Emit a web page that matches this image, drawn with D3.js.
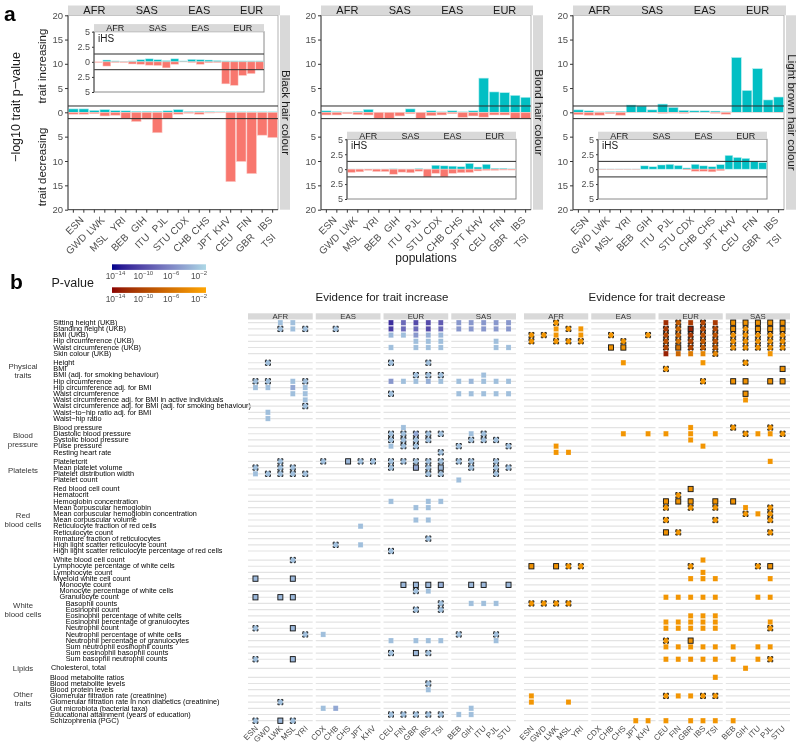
<!DOCTYPE html>
<html><head><meta charset="utf-8">
<script src="https://cdn.jsdelivr.net/npm/d3@7"></script>
<style>body{margin:0;background:#fff} svg{font-family:"Liberation Sans",Arial,Helvetica,sans-serif} .gs{opacity:0.995}</style>
</head><body><svg id="c" width="800" height="748"></svg>
<script>
// ================= DATA =================
// Panel a
const popsA = ["ESN","GWD","LWK","MSL","YRI","BEB","GIH","ITU","PJL","STU","CDX","CHB","CHS","JPT","KHV","CEU","FIN","GBR","IBS","TSI"];
const superA = ["AFR","SAS","EAS","EUR"];
const hairTraits = ["Black hair colour","Blond hair colour","Light brown hair colour"];
const mainTicksUp = [0,5,10,15,20];
const mainTicksDown = [5,10,15,20];
const ihsTicks = [-5,-2.5,0,2.5,5];
const threshold = 1.3;
// -log10 p, trait increasing / decreasing (main), and iHS inset
const blackInc = [0.7,0.7,0.4,0.55,0.35, 0.3,0.2,0.2,0.2,0.3, 0.55,0.15,0.2,0.15,0.1, 0.1,0.1,0.1,0.1,0.1];
const blackDec = [0.4,0.4,0.3,0.75,0.6, 1.25,1.9,1.4,4.2,1.3, 0.4,0.2,0.4,0.15,0.1, 14.25,10.1,12.6,4.7,5.2];
const blackIhsInc = [0,0.3,0.15,0.05,0.15, 0.35,0.5,0.35,0.2,0.5, 0.15,0.4,0.35,0.3,0.2, 0.15,0.15,0.15,0.15,0.15];
const blackIhsDec = [0.1,0.7,0.1,0.1,0.35, 0.4,0.55,0.6,1.0,0.4, 0.02,0.1,0.4,0.15,0.1, 3.65,3.9,2.25,1.95,1.25];
const blondInc = [0.3,0.15,0.05,0.2,0.6, 0.02,0.02,0.02,0.7,0.02, 0.3,0.1,0.3,0.1,0.3, 7.05,4.2,4.05,3.5,3.1];
const blondDec = [0.55,0.55,0.3,0.5,0.55, 1.25,1.25,0.75,0.3,1.3, 0.7,0.55,0.3,1.05,0.75, 1.0,0.55,0.55,1.25,1.25];
const blondIhsInc = [0.02,0.02,0.02,0.02,0.02, 0.05,0.02,0.02,0.1,0.02, 0.65,0.55,0.5,0.4,0.95, 0.35,0.8,0.15,0.15,0.05];
const blondIhsDec = [0.55,0.45,0.2,0.4,0.4, 0.85,0.5,0.6,0.35,1.3, 0.7,1.3,0.7,0.6,0.55, 0.3,0.2,0.2,0.15,0.15];
const brownInc = [0.5,0.3,0.1,0.15,0.2, 1.5,1.3,0.5,1.7,1.0, 0.4,0.3,0.3,0.25,0.1, 11.3,4.5,9.0,2.55,3.15];
const brownDec = [0.5,0.6,0.6,0.3,0.6, 0.05,0.02,0.05,0.2,0.15, 0.2,0.02,0.02,0.2,0.4, 0.02,0.02,0.02,0.02,0.05];
const brownIhsInc = [0.03,0.03,0.03,0.03,0.03, 0.55,0.4,0.7,0.8,0.6, 0.2,0.8,0.55,0.4,0.75, 2.3,1.95,1.8,1.3,1.1];
const brownIhsDec = [0.05,0.05,0.05,0.05,0.05, 0,0,0,0,0, 0.1,0.35,0.35,0.45,0.25, 0,0,0,0,0];

// Panel b
const popsB = ["ESN","GWD","LWK","MSL","YRI","CDX","CHB","CHS","JPT","KHV","CEU","FIN","GBR","IBS","TSI","BEB","GIH","ITU","PJL","STU"];
const superB = ["AFR","EAS","EUR","SAS"];
const directions = ["Evidence for trait increase","Evidence for trait decrease"];
const legendTicks = [-14,-10,-6,-2];
const traits = [
"Sitting height (UKB)","Standing height (UKB)","BMI (UKB)","Hip circumference (UKB)","Waist circumference (UKB)","Skin colour (UKB)",
"Height","BMI","BMI (adj. for smoking behaviour)","Hip circumference","Hip circumference adj. for BMI","Waist circumference","Waist circumference adj. for BMI in active individuals","Waist circumference adj. for BMI (adj. for smoking behaviour)","Waist\u2212to\u2212hip ratio adj. for BMI","Waist\u2212hip ratio",
"Blood pressure","Diastolic blood pressure","Systolic blood pressure","Pulse pressure","Resting heart rate",
"Plateletcrit","Mean platelet volume","Platelet distribution width","Platelet count",
"Red blood cell count","Hematocrit","Hemoglobin concentration","Mean corpuscular hemoglobin","Mean corpuscular hemoglobin concentration","Mean corpuscular volume","Reticulocyte fraction of red cells","Reticulocyte count","Immature fraction of reticulocytes","High light scatter reticulocyte count","High light scatter reticulocyte percentage of red cells",
"White blood cell count","Lymphocyte percentage of white cells","Lymphocyte count","Myeloid white cell count","Monocyte count","Monocyte percentage of white cells","Granulocyte count","Basophil counts","Eosinophil count","Eosinophil percentage of white cells","Eosinophil percentage of granulocytes","Neutrophil count","Neutrophil percentage of white cells","Neutrophil percentage of granulocytes","Sum neutrophil eosinophil counts","Sum eosinophil basophil counts","Sum basophil neutrophil counts",
"Cholesterol, total",
"Blood metabolite ratios","Blood metabolite levels","Blood protein levels","Glomerular filtration rate (creatinine)","Glomerular filtration rate in non diabetics (creatinine)","Gut microbiota (bacterial taxa)","Educational attainment (years of education)","Schizophrenia (PGC)"];
const groupSizes = [6,10,5,4,11,17,1,8];
const groupNames = ["","Physical|traits","Blood|pressure","Platelets","Red|blood cells","White|blood cells","Lipids","Other|traits"];
const traitLevel = traits.map((t,i)=> (i>=40&&i<=42)?1:(i>=43&&i<=52)?2:0);
// tiles: [trait index, population, -log10 p, mark (0 plain, 1 solid outline, 2 dashed outline)]
const incTiles = [
[0,"LWK",2.5,0],[0,"MSL",2.5,0],[0,"CEU",12,0],[0,"FIN",8,0],[0,"GBR",10,0],[0,"IBS",10,0],[0,"TSI",9,0],[0,"BEB",5,0],[0,"GIH",5,0],[0,"ITU",5,0],[0,"PJL",5,0],[0,"STU",5,0],
[1,"LWK",2.5,2],[1,"MSL",2.5,0],[1,"YRI",2.5,2],[1,"CHB",2.5,2],[1,"CEU",11,0],[1,"FIN",8,0],[1,"GBR",8,0],[1,"IBS",10,0],[1,"TSI",8,0],[1,"BEB",5,0],[1,"GIH",5,0],[1,"ITU",5,0],[1,"PJL",5,0],[1,"STU",5,0],
[2,"CEU",3,0],[2,"FIN",2.5,0],[2,"GBR",5,0],[2,"IBS",3.5,0],[2,"TSI",3,0],
[3,"GBR",2.5,0],[3,"IBS",2.5,0],[3,"TSI",2.5,0],[3,"PJL",2.5,0],
[4,"CEU",2.5,0],[4,"GBR",2.5,0],[4,"IBS",2.5,0],[4,"TSI",2.5,0],[4,"PJL",2.5,0],[4,"STU",2.5,0],
[6,"GWD",2.5,2],[6,"CEU",2.5,2],[6,"IBS",2.5,2],
[8,"GBR",2.5,2],[8,"IBS",2.5,2],[8,"TSI",2.5,2],[8,"ITU",2.5,0],
[9,"ESN",2.5,2],[9,"GWD",2.5,2],[9,"MSL",2.5,0],[9,"YRI",2.5,2],[9,"CEU",5,0],[9,"FIN",2.5,0],[9,"GBR",2.5,0],[9,"IBS",3.5,0],[9,"TSI",2.5,0],[9,"BEB",2.5,0],[9,"GIH",3,0],[9,"ITU",2.5,0],[9,"PJL",2.5,0],[9,"STU",2.5,0],
[10,"ESN",2.5,0],[10,"GWD",2.5,0],[10,"MSL",4,0],[10,"YRI",2.5,0],
[11,"MSL",2.5,0],[11,"YRI",2.5,0],[11,"CEU",2.5,2],[11,"BEB",2.5,0],[11,"GIH",2.5,0],[11,"ITU",2.5,0],[11,"PJL",2.5,0],[11,"STU",2.5,0],
[12,"YRI",2.5,0],[13,"YRI",2.5,2],[14,"GWD",2.5,0],[15,"GWD",2.5,0],
[16,"FIN",2.5,0],
[17,"CEU",2.5,2],[17,"FIN",2.5,2],[17,"GBR",4,2],[17,"IBS",2.5,2],[17,"TSI",2.5,2],[17,"GIH",2.5,0],[17,"ITU",2.5,2],
[18,"CEU",2.5,2],[18,"FIN",2.5,2],[18,"GBR",2.5,2],[18,"IBS",2.5,2],[18,"GIH",2.5,2],[18,"ITU",2.5,2],[18,"PJL",2.5,2],
[19,"CEU",2.5,0],[19,"FIN",2.5,2],[19,"GBR",2.5,2],[19,"BEB",2.5,2],[19,"STU",2.5,2],
[20,"TSI",2.5,2],
[21,"LWK",2.5,2],[21,"CDX",2.5,2],[21,"CHS",3,1],[21,"JPT",2.5,2],[21,"KHV",2.5,2],[21,"CEU",2.5,2],[21,"FIN",2.5,2],[21,"GBR",2.5,2],[21,"IBS",2.5,2],[21,"TSI",2.5,2],[21,"BEB",2.5,2],[21,"GIH",2.5,2],[21,"PJL",2.5,2],
[22,"ESN",2.5,2],[22,"LWK",2.5,2],[22,"MSL",2.5,2],[22,"CEU",2.5,2],[22,"GBR",4,1],[22,"IBS",2.5,2],[22,"TSI",3,1],[22,"GIH",2.5,2],[22,"PJL",2.5,2],[22,"STU",2.5,2],
[23,"ESN",2.5,0],[23,"GWD",2.5,2],[23,"LWK",2.5,2],[23,"MSL",2.5,2],[23,"YRI",2.5,2],[23,"IBS",2.5,2],[23,"TSI",2.5,2],[23,"PJL",2.5,2],
[24,"BEB",2.5,0],
[27,"CEU",2.5,0],[27,"IBS",2.5,0],[27,"TSI",2.5,0],
[28,"GBR",2.5,0],[28,"IBS",2.5,0],
[30,"GBR",2.5,0],[30,"IBS",2.5,0],
[31,"JPT",2.5,0],[33,"IBS",2.5,2],[34,"CHB",2.5,2],[34,"JPT",2.5,0],[35,"CEU",2.5,2],
[36,"MSL",2.5,2],
[39,"ESN",3,1],[39,"MSL",3,1],
[40,"FIN",3,1],[40,"GBR",3,1],[40,"IBS",3,1],[40,"TSI",3.5,1],[40,"GIH",3,1],[40,"ITU",3,1],[40,"STU",3,1],
[41,"GBR",2.5,2],[41,"IBS",2.5,0],
[42,"ESN",3,1],[42,"LWK",3,1],[42,"MSL",3,1],
[43,"TSI",2.5,2],[43,"GIH",2.5,0],[43,"ITU",2.5,0],[43,"PJL",2.5,0],
[44,"GBR",2.5,2],[44,"TSI",2.5,2],
[47,"ESN",2.5,2],[47,"MSL",3,1],
[48,"YRI",2.5,2],[48,"CDX",2.5,0],[48,"BEB",2.5,2],[48,"PJL",2.5,2],
[49,"CEU",2.5,0],[49,"GBR",2.5,0],[49,"IBS",2.5,0],[49,"TSI",2.5,0],[49,"PJL",2.5,0],
[51,"CEU",2.5,2],[51,"GBR",3,1],[51,"IBS",2.5,2],
[52,"ESN",2.5,2],[52,"MSL",3,1],
[55,"IBS",2.5,2],[56,"IBS",2.5,0],
[58,"LWK",2.5,2],
[59,"CDX",2.5,0],[59,"CHB",4,0],[59,"GIH",2.5,0],
[60,"CEU",2.5,2],[60,"FIN",2.5,2],[60,"GBR",2.5,2],[60,"IBS",2.5,2],[60,"TSI",2.5,2],[60,"BEB",2.5,0],[60,"GIH",2.5,0],
[61,"ESN",2.5,2],[61,"LWK",3,1],[61,"MSL",2.5,2]
];
const decTiles = [
[0,"LWK",2.5,2],[0,"CEU",12,0],[0,"FIN",8,2],[0,"GBR",11,0],[0,"IBS",10,2],[0,"TSI",11,0],[0,"BEB",3,1],[0,"GIH",3,1],[0,"ITU",3,1],[0,"PJL",3,1],[0,"STU",3,1],
[1,"LWK",2.5,0],[1,"MSL",2.5,2],[1,"YRI",2.5,0],[1,"CEU",11,2],[1,"FIN",7,2],[1,"GBR",13,1],[1,"IBS",10,2],[1,"TSI",10,2],[1,"BEB",3,1],[1,"GIH",3,2],[1,"ITU",3,1],[1,"PJL",3,1],[1,"STU",3,1],
[2,"ESN",2.5,2],[2,"GWD",2.5,2],[2,"LWK",2.5,0],[2,"YRI",2.5,0],[2,"CHB",2.5,2],[2,"KHV",2.5,2],[2,"CEU",10,2],[2,"FIN",7,2],[2,"GBR",11,2],[2,"IBS",9,2],[2,"TSI",9,2],[2,"BEB",3,2],[2,"GIH",3,2],[2,"ITU",3,2],[2,"PJL",3,2],[2,"STU",3,2],
[3,"ESN",2.5,2],[3,"LWK",2.5,2],[3,"MSL",2.5,2],[3,"YRI",2.5,2],[3,"CHS",2.5,2],[3,"CEU",9,2],[3,"FIN",6,2],[3,"GBR",10,2],[3,"IBS",8,2],[3,"TSI",9,2],[3,"BEB",3,2],[3,"GIH",3,2],[3,"ITU",3,2],[3,"PJL",3,2],[3,"STU",3,2],
[4,"CHB",3,1],[4,"CHS",3,1],[4,"CEU",10,2],[4,"FIN",6,1],[4,"GBR",10,2],[4,"IBS",8,2],[4,"TSI",8,2],[4,"BEB",3,2],[4,"GIH",3,2],[4,"ITU",3,2],[4,"PJL",3,2],[4,"STU",3,2],
[5,"CEU",13,0],[5,"FIN",7,0],[5,"GBR",5,0],[5,"IBS",4,0],[5,"TSI",4,2],[5,"PJL",2.5,0],
[6,"CHS",2.5,0],[6,"IBS",2.5,0],[6,"GIH",2.5,2],
[7,"CEU",2.5,2],[7,"STU",3,1],
[9,"IBS",2.5,2],[9,"BEB",3,1],[9,"GIH",3,1],[9,"PJL",3,1],[9,"STU",3,1],
[11,"GIH",3,1],[12,"GIH",2.5,0],
[16,"GBR",2.5,0],[16,"BEB",2.5,2],[16,"PJL",2.5,2],
[17,"CHS",2.5,0],[17,"KHV",2.5,0],[17,"CEU",2.5,0],[17,"GBR",2.5,0],[17,"TSI",2.5,0],[17,"GIH",2.5,2],[17,"ITU",2.5,0],[17,"PJL",2.5,0],[17,"STU",2.5,2],
[18,"GBR",2.5,0],
[19,"LWK",2.5,0],[19,"IBS",2.5,0],
[20,"LWK",2.5,0],[20,"MSL",2.5,0],
[21,"PJL",2.5,0],
[25,"GBR",3,1],[26,"FIN",2.5,2],
[27,"CEU",3,1],[27,"FIN",3,1],[27,"GBR",3,1],[27,"TSI",3,1],[27,"BEB",3,1],
[28,"CEU",2.5,2],[28,"GBR",2.5,2],[28,"TSI",2.5,2],[28,"GIH",2.5,0],[28,"PJL",2.5,2],
[29,"GIH",2.5,2],[29,"ITU",2.5,0],[29,"PJL",2.5,2],
[30,"CEU",2.5,2],[30,"TSI",2.5,2],[30,"PJL",2.5,2],
[32,"CEU",3,1],[32,"FIN",2.5,2],[32,"PJL",2.5,2],
[36,"IBS",2.5,0],
[37,"ESN",3,1],[37,"LWK",3,1],[37,"MSL",2.5,2],[37,"YRI",2.5,2],[37,"GBR",2.5,2],[37,"ITU",2.5,2],[37,"PJL",3,1],
[38,"IBS",2.5,0],
[39,"GBR",2.5,0],[39,"IBS",2.5,0],[39,"TSI",2.5,0],[39,"PJL",2.5,0],
[42,"CEU",2.5,0],[42,"FIN",2.5,0],[42,"GBR",2.5,0],[42,"IBS",2.5,0],[42,"TSI",2.5,0],[42,"ITU",2.5,0],[42,"PJL",2.5,0],
[43,"ESN",2.5,2],[43,"GWD",2.5,2],[43,"LWK",2.5,2],[43,"MSL",2.5,2],
[45,"GBR",2.5,0],[45,"IBS",2.5,0],[45,"TSI",2.5,0],
[46,"CEU",2.5,0],[46,"FIN",2.5,0],[46,"GBR",2.5,0],[46,"IBS",2.5,0],[46,"TSI",2.5,0],[46,"PJL",2.5,0],
[47,"CEU",2.5,0],[47,"FIN",2.5,0],[47,"GBR",2.5,0],[47,"IBS",2.5,0],[47,"TSI",2.5,0],[47,"PJL",2.5,2],
[49,"CEU",2.5,2],[49,"GBR",3,1],
[50,"CEU",2.5,0],[50,"FIN",2.5,0],[50,"GBR",2.5,0],[50,"IBS",2.5,0],[50,"TSI",2.5,0],[50,"BEB",2.5,0],[50,"ITU",2.5,0],[50,"PJL",2.5,0],
[52,"CEU",2.5,0],[52,"FIN",2.5,0],[52,"GBR",3,0],[52,"IBS",2.5,0],[52,"TSI",2.5,0],[52,"BEB",2.5,0],[52,"ITU",2.5,0],[52,"PJL",2.5,2],
[53,"GIH",2.5,0],
[54,"TSI",2.5,0],
[57,"ESN",2.5,0],[57,"CEU",2.5,2],[57,"FIN",2.5,0],[57,"GBR",2.5,0],[57,"IBS",2.5,2],[57,"TSI",2.5,2],
[58,"ESN",2.5,0],[58,"MSL",2.5,0],
[61,"JPT",2.5,0],[61,"KHV",2.5,0],[61,"CEU",2.5,0],[61,"GBR",2.5,0],[61,"IBS",2.5,0],[61,"TSI",2.5,0],[61,"BEB",2.5,0]
];

// ================= DRAW =================
const root = d3.select("#c");
const svg = root.append("g").attr("class","gs");
const TXT = "#1a1a1a", AX = "#4d4d4d", STRIP = "#d9d9d9";
const teal = "#00BFC4", salmon = "#F8766D";

svg.append("text").attr("x",4).attr("y",21).attr("font-size",21).attr("font-weight","bold").text("a");
svg.append("text").attr("x",10).attr("y",289).attr("font-size",21).attr("font-weight","bold").text("b");

// ---------- panel a ----------
const boxes = [{x0:68,x1:278},{x0:321,x1:531},{x0:573,x1:784}];
const insets = [{x0:94,x1:264,y0:31.7,y1:92},{x0:347,x1:516,y0:139.3,y1:199},{x0:598,x1:767,y0:139.3,y1:199}];
const Y_TOP=15.3, Y_ZERO=112.3, Y_BOT=209.7;
const hairData = [
 {inc:blackInc,dec:blackDec,iInc:blackIhsInc,iDec:blackIhsDec},
 {inc:blondInc,dec:blondDec,iInc:blondIhsInc,iDec:blondIhsDec},
 {inc:brownInc,dec:brownDec,iInc:brownIhsInc,iDec:brownIhsDec}];

svg.append("text").attr("transform","translate(20,107) rotate(-90)").attr("text-anchor","middle")
  .attr("font-size",12.5).attr("fill",TXT).text("\u2212log10 trait p\u2212value");
svg.append("text").attr("transform","translate(46,66) rotate(-90)").attr("text-anchor","middle")
  .attr("font-size",11.5).attr("fill",TXT).text("trait increasing");
svg.append("text").attr("transform","translate(46,167) rotate(-90)").attr("text-anchor","middle")
  .attr("font-size",11.5).attr("fill",TXT).text("trait decreasing");
svg.append("text").attr("x",426).attr("y",262).attr("text-anchor","middle").attr("font-size",12).attr("fill",TXT).text("populations");

function superCenters(x, pops, supers){
  return supers.map((s,k)=>{const a=pops[k*5], b=pops[k*5+4]; return (x(a)+x(b)+x.bandwidth())/2;});
}

hairData.forEach((h,k)=>{
  const b = boxes[k], ins = insets[k];
  const g = svg.append("g");
  const x = d3.scaleBand().domain(popsA).range([b.x0,b.x1]).paddingInner(0.08).paddingOuter(0.05);
  const yU = d3.scaleLinear().domain([0,20]).range([Y_ZERO,Y_TOP]);
  const yD = d3.scaleLinear().domain([0,20]).range([Y_ZERO,Y_BOT]);
  g.append("rect").attr("x",b.x0).attr("y",Y_TOP).attr("width",b.x1-b.x0).attr("height",Y_BOT-Y_TOP)
    .attr("fill","#fff").attr("stroke","#a0a0a0").attr("stroke-width",0.8);
  g.selectAll("rect.inc").data(popsA).join("rect").attr("class","inc")
    .attr("x",d=>x(d)).attr("width",x.bandwidth())
    .attr("y",(d,i)=>yU(h.inc[i])).attr("height",(d,i)=>Y_ZERO-yU(h.inc[i]))
    .attr("fill",teal).attr("stroke","#b8eef0").attr("stroke-width",0.6);
  g.selectAll("rect.dec").data(popsA).join("rect").attr("class","dec")
    .attr("x",d=>x(d)).attr("width",x.bandwidth())
    .attr("y",Y_ZERO).attr("height",(d,i)=>yD(h.dec[i])-Y_ZERO)
    .attr("fill",salmon).attr("stroke","#fcd0cc").attr("stroke-width",0.6);
  [yU(threshold), yD(threshold)].forEach(yy=>g.append("line").attr("x1",b.x0).attr("x2",b.x1)
    .attr("y1",yy).attr("y2",yy).attr("stroke","#2b2b2b").attr("stroke-width",1));
  const aU = g.append("g").attr("transform",`translate(${b.x0},0)`).call(d3.axisLeft(yU).tickValues(mainTicksUp).tickSize(3).tickPadding(2));
  const aD = g.append("g").attr("transform",`translate(${b.x0},0)`).call(d3.axisLeft(yD).tickValues(mainTicksDown).tickSize(3).tickPadding(2));
  [aU,aD].forEach(a=>{a.select(".domain").remove();
    a.selectAll("text").attr("font-size",9.5).attr("fill",AX).attr("font-family",null);
    a.selectAll("line").attr("stroke","#333");});
  g.append("line").attr("x1",b.x0).attr("x2",b.x0).attr("y1",Y_TOP).attr("y2",Y_BOT).attr("stroke","#333").attr("stroke-width",0.9);
  g.append("line").attr("x1",b.x0).attr("x2",b.x1).attr("y1",Y_BOT).attr("y2",Y_BOT).attr("stroke","#333").attr("stroke-width",0.9);
  popsA.forEach((p,i)=>{
    const cx = x(p)+x.bandwidth()/2;
    g.append("line").attr("x1",cx).attr("x2",cx).attr("y1",Y_BOT).attr("y2",Y_BOT+3).attr("stroke","#333");
    g.append("text").attr("transform",`translate(${cx+(i%2?3.5:11)},${Y_BOT+(i%2?28:11)}) rotate(-45)`)
      .attr("text-anchor","end").attr("font-size",10).attr("fill",AX).text(p);
  });
  g.append("rect").attr("x",b.x0).attr("y",5.5).attr("width",b.x1-b.x0+2).attr("height",Y_TOP-5.5).attr("fill",STRIP);
  superCenters(x,popsA,superA).forEach((c,j)=>g.append("text").attr("x",c).attr("y",14).attr("text-anchor","middle")
    .attr("font-size",11).attr("fill",TXT).text(superA[j]));
  g.append("rect").attr("x",b.x1+2).attr("y",Y_TOP).attr("width",10).attr("height",Y_BOT-Y_TOP).attr("fill",STRIP);
  g.append("text").attr("transform",`translate(${b.x1+3.5},${(Y_TOP+Y_BOT)/2}) rotate(90)`).attr("text-anchor","middle")
    .attr("font-size",11.5).attr("fill",TXT).text(hairTraits[k]);

  // inset
  const xi = d3.scaleBand().domain(popsA).range([ins.x0,ins.x1]).paddingInner(0.08).paddingOuter(0.05);
  const yi = d3.scaleLinear().domain([-5,5]).range([ins.y1,ins.y0]);
  const ig = svg.append("g");
  ig.append("rect").attr("x",ins.x0).attr("y",ins.y0).attr("width",ins.x1-ins.x0).attr("height",ins.y1-ins.y0)
    .attr("fill","#fff").attr("stroke","#8a8a8a").attr("stroke-width",1);
  ig.selectAll("rect.ii").data(popsA).join("rect").attr("class","ii")
    .attr("x",d=>xi(d)).attr("width",xi.bandwidth())
    .attr("y",(d,i)=>yi(h.iInc[i])).attr("height",(d,i)=>yi(0)-yi(h.iInc[i]))
    .attr("fill",teal).attr("stroke","#b8eef0").attr("stroke-width",0.5);
  ig.selectAll("rect.id").data(popsA).join("rect").attr("class","id")
    .attr("x",d=>xi(d)).attr("width",xi.bandwidth())
    .attr("y",yi(0)).attr("height",(d,i)=>yi(-h.iDec[i])-yi(0))
    .attr("fill",salmon).attr("stroke","#fcd0cc").attr("stroke-width",0.5);
  [yi(threshold), yi(-threshold)].forEach(yy=>ig.append("line").attr("x1",ins.x0).attr("x2",ins.x1)
    .attr("y1",yy).attr("y2",yy).attr("stroke","#2b2b2b").attr("stroke-width",1));
  const ai = ig.append("g").attr("transform",`translate(${ins.x0},0)`)
    .call(d3.axisLeft(yi).tickValues(ihsTicks).tickSize(2).tickPadding(2).tickFormat(v=>Math.abs(v)));
  ai.select(".domain").remove();
  ai.selectAll("text").attr("font-size",9).attr("fill",AX).attr("font-family",null);
  ai.selectAll("line").attr("stroke","#333");
  ig.append("line").attr("x1",ins.x0).attr("x2",ins.x0).attr("y1",ins.y0).attr("y2",ins.y1).attr("stroke","#555").attr("stroke-width",1);
  ig.append("rect").attr("x",ins.x0).attr("y",ins.y0-7.6).attr("width",ins.x1-ins.x0).attr("height",7.6).attr("fill",STRIP);
  superCenters(xi,popsA,superA).forEach((c,j)=>ig.append("text").attr("x",c).attr("y",ins.y0-0.6).attr("text-anchor","middle")
    .attr("font-size",9).attr("fill",TXT).text(superA[j]));
  ig.append("text").attr("x",ins.x0+4).attr("y",ins.y0+10).attr("font-size",10).attr("fill",TXT).text("iHS");
});

// ---------- panel b ----------
const incColor = d3.scaleLinear().domain([1,14.5]).range(["#ADD8E6","#00008B"]).interpolate(d3.interpolateLab).clamp(true);
const decColor = d3.scaleLinear().domain([1,14.5]).range(["#FFA500","#8B0000"]).interpolate(d3.interpolateLab).clamp(true);

svg.append("text").attr("x",51.5).attr("y",287).attr("font-size",12.5).attr("fill",TXT).text("P-value");
const defs = root.append("defs");
const lg = d3.scaleLinear().domain([-14.5,-1]).range([112,206]);
[["gBlue",incColor,264.3],["gOrange",decColor,287.3]].forEach(([id,sc,yy])=>{
  const gr = defs.append("linearGradient").attr("id",id);
  d3.range(0,1.0001,0.1).forEach(t=>{
    const lp = -(-14.5 + t*13.5);
    gr.append("stop").attr("offset",t).attr("stop-color",sc(lp));
  });
  svg.append("rect").attr("x",112).attr("y",yy).attr("width",94).attr("height",5.6).attr("fill",`url(#${id})`);
  legendTicks.forEach(v=>{
    const t = svg.append("text").attr("x",lg(v)).attr("y",yy+14.5).attr("text-anchor","middle").attr("fill",AX);
    t.append("tspan").attr("font-size",8.5).text("10");
    t.append("tspan").attr("font-size",6).attr("dy",-3.5).text("\u2212"+Math.abs(v));
  });
});

const yRow = [];
const groupOf = [];
{ let y = 322.7; groupSizes.forEach((n,g)=>{ for(let k=0;k<n;k++){ yRow.push(y); groupOf.push(g); y+=6.2; } y+=2.83; }); }
const groupLabelX = [53.3,53.3,53.3,53.3,53.3,53.3,51,50];
traits.forEach((t,i)=>{
  svg.append("text").attr("x",groupLabelX[groupOf[i]] + traitLevel[i]*6.2).attr("y",yRow[i]).attr("dy","0.3em")
    .attr("font-size",7.3).attr("fill","#000").text(t);
});
const groupSpan = [];
{ let s=0; groupSizes.forEach(n=>{groupSpan.push([s,s+n-1]); s+=n;}); }
groupNames.forEach((name,g)=>{
  if(!name) return;
  let a = groupSpan[g][0], bEnd = groupSpan[g][1];
  if(g===1) a = 0;
  const cy = (yRow[a]+yRow[bEnd])/2;
  const lines = name.split("|");
  lines.forEach((ln,j)=>svg.append("text").attr("x",23).attr("y",cy+(j-(lines.length-1)/2)*9).attr("dy","0.35em")
    .attr("text-anchor","middle").attr("font-size",7.8).attr("fill","#333").text(ln));
});

function heat(range, tiles, color, title){
  const fx = d3.scaleBand().domain(superB).range(range).paddingInner(0.045);
  const g = svg.append("g");
  g.append("text").attr("x",(range[0]+range[1])/2).attr("y",301).attr("text-anchor","middle")
    .attr("font-size",11.5).attr("fill",TXT).text(title);
  const xs = {};
  superB.forEach((s,k)=>{
    const x0 = fx(s), w = fx.bandwidth();
    const members = popsB.slice(k*5,k*5+5);
    const px = d3.scalePoint().domain(members).range([x0,x0+w]).padding(0.6);
    members.forEach(m=>xs[m]=px(m));
    g.append("rect").attr("x",x0).attr("y",313.3).attr("width",w).attr("height",6.2).attr("fill",STRIP);
    g.append("text").attr("x",x0+w/2).attr("y",319).attr("text-anchor","middle").attr("font-size",7.8).attr("fill","#333").text(s);
    yRow.forEach(yy=>g.append("line").attr("x1",x0).attr("x2",x0+w).attr("y1",yy).attr("y2",yy)
      .attr("stroke","#e3e3e3").attr("stroke-width",1.2));
    members.forEach(m=>g.append("text").attr("transform",`translate(${px(m)+3},${729}) rotate(-45)`)
      .attr("text-anchor","end").attr("font-size",8).attr("fill",AX).text(m));
  });
  const W=5, H=5.3;
  g.selectAll("rect.tile").data(tiles).join("rect").attr("class","tile")
    .attr("x",d=>xs[d[1]]-W/2).attr("y",d=>yRow[d[0]]-H/2).attr("width",W).attr("height",H)
    .attr("fill",d=>color(d[2]))
    .attr("stroke",d=>d[3]===0?"#ffffff":"#111")
    .attr("stroke-opacity",d=>d[3]===0?0.35:1)
    .attr("stroke-width",d=>d[3]===0?0.5:0.9)
    .attr("stroke-dasharray",d=>d[3]===2?"1.6 1.8 1.6 0":null);
}
heat([248,516], incTiles, incColor, directions[0]);
heat([524,790], decTiles, decColor, directions[1]);
</script></body></html>
